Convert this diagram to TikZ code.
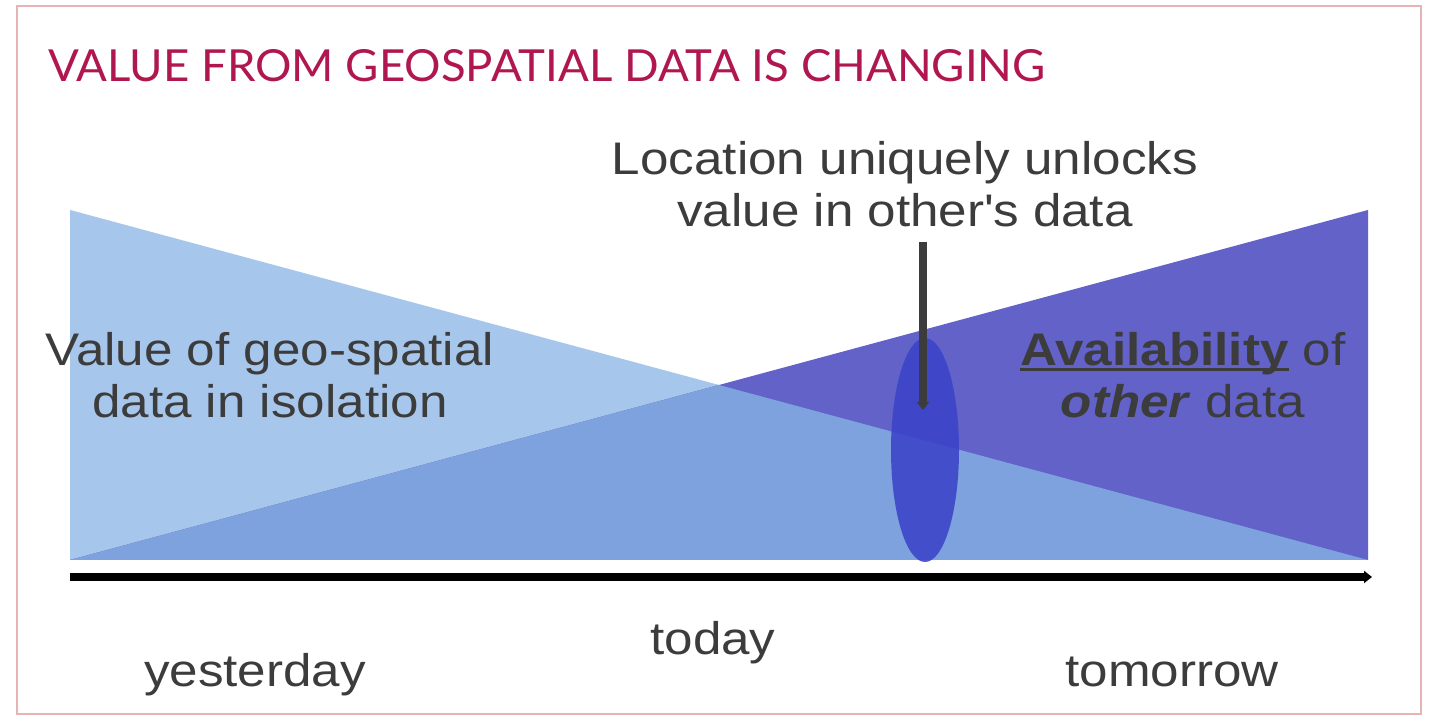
\documentclass[tikz,border=0pt]{standalone}
\usepackage{fontspec}
\usepackage{graphicx}
\setmainfont[FakeStretch=1.12]{Liberation Sans}
\newfontfamily\titlefont{Lato}
\usetikzlibrary{arrows.meta,shapes.geometric}
\definecolor{lightfill}{HTML}{A7C6EB}
\definecolor{darkfill}{HTML}{6262C9}
\definecolor{midfill}{HTML}{7DA2DD}
\definecolor{ovalfill}{HTML}{3C45C8}
\definecolor{titlered}{HTML}{B0164F}
\definecolor{txtgray}{HTML}{3C3C3C}
\definecolor{framepink}{HTML}{E6B4B4}
\newcommand\thickul[1]{\setbox0\hbox{#1}\rlap{\rule[-0.12cm]{\wd0}{1.6pt}}\box0\relax}

\begin{document}
\begin{tikzpicture}[>={Triangle[width=0.24cm,length=0.16cm]},
    txt/.style={text=txtgray, font=\fontsize{26}{30}\selectfont, align=center, inner sep=0pt}]
\useasboundingbox (0,0) rectangle (28.62,14.36);
\fill[white] (0,0) rectangle (28.62,14.36);
\draw[framepink, line width=0.8pt] (0.34,0.08) rectangle (28.42,14.24);

\node[anchor=base west, inner sep=0pt, text=titlered] (title) at (0.96,12.72)
    {\resizebox{19.94cm}{0.64cm}{\titlefont VALUE FROM GEOSPATIAL DATA IS CHANGING}};

% wedges
\coordinate (yl) at (1.40,3.16);
\coordinate (tl) at (1.40,10.16);
\coordinate (tr) at (27.36,3.16);
\coordinate (tt) at (27.36,10.16);
\coordinate (cross) at (14.38,6.66);
\fill[lightfill] (tl)--(yl)--(tr)--cycle;
\fill[darkfill] (yl)--(tt)--(tr)--cycle;
\fill[midfill] (yl)--(cross)--(tr)--cycle;

\node[ellipse, fill=ovalfill, opacity=.9, minimum width=1.36cm, minimum height=4.48cm, inner sep=0pt] (oval) at (18.50,5.36) {};

% time axis
\coordinate (t0) at (1.40,2.82);
\coordinate (t1) at (27.44,2.82);
\draw[line width=4pt, ->] (t0)--(t1);

\node[txt, anchor=base] (loc) at (18.10,9.82) {Location uniquely unlocks\\ value in other\textquotesingle s data};
\coordinate (ptop) at (18.46,9.52);
\coordinate (ptip) at (18.46,6.16);
\draw[txtgray, line width=4.5pt, ->] (ptop)--(ptip);

\node[txt, anchor=base] (iso) at (5.40,6.00) {Value of geo-spatial\\ data in isolation};
\node[txt, anchor=base] (avail) at (23.66,6.00) {\thickul{\textbf{Availability}} of\\ \textbf{\textit{other}} data};

\node[txt, anchor=base] (today) at (14.26,1.26) {today};
\node[txt, anchor=base] (yest) at (5.10,0.62) {yesterday};
\node[txt, anchor=base] (tomo) at (23.44,0.62) {tomorrow};

\end{tikzpicture}
\end{document}
